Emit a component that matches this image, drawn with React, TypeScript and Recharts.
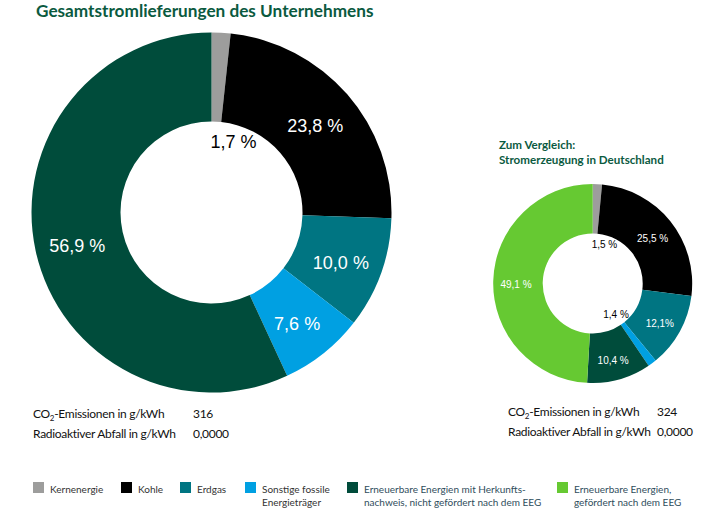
import React from 'react';
import { PieChart, Pie, Cell } from 'recharts';

const categories = [
  'Kernenergie',
  'Kohle',
  'Erdgas',
  'Sonstige fossile Energieträger',
  'Erneuerbare Energien mit Herkunftsnachweis, nicht gefördert nach dem EEG',
  'Erneuerbare Energien, gefördert nach dem EEG',
];
const colors = ['#9d9d9c', '#000000', '#007582', '#00a0e2', '#004c3b', '#66c932'];

const companyValues = [1.7, 23.8, 10.0, 7.6, 56.9];
const companyLabels = ['1,7 %', '23,8 %', '10,0 %', '7,6 %', '56,9 %'];

const germanyValues = [1.5, 25.5, 12.1, 1.4, 10.4, 49.1];
const germanyLabels = ['1,5 %', '25,5 %', '12,1%', '1,4 %', '10,4 %', '49,1 %'];

const legendLines = [
  ['Kernenergie'],
  ['Kohle'],
  ['Erdgas'],
  ['Sonstige fossile', 'Energieträger'],
  ['Erneuerbare Energien mit Herkunfts-', 'nachweis, nicht gefördert nach dem EEG'],
  ['Erneuerbare Energien,', 'gefördert nach dem EEG'],
];
const legendTextColors = ['#333333', '#333333', '#333333', '#333333', '#2f4d5c', '#2f4d5c'];
const LEGEND_X = [33, 121, 180, 245, 347, 557];

const companyStats = ['316', '0,0000'];
const germanyStats = ['324', '0,0000'];

const companyData = companyValues.map((v, i) => ({ name: categories[i], value: v }));
const germanyData = germanyValues.map((v, i) => ({ name: categories[i], value: v }));

const RAD = Math.PI / 180;
const LABEL_FONT = '"Liberation Sans", Arial, sans-serif';
const TEXT_FONT = 'Lato, "Open Sans", sans-serif';

const makeLabel = (labels: string[], fontSize: number, ringDy: number) => (props: any) => {
  const { cx, cy, midAngle, innerRadius, outerRadius, index, value } = props;
  const small = value < 2;
  const r = small ? innerRadius * 0.78 : (innerRadius + outerRadius) / 2 + 2;
  const cos = Math.cos(-midAngle * RAD);
  const sin = Math.sin(-midAngle * RAD);
  let x = cx + r * cos;
  const y = cy + r * sin + (small ? 0 : ringDy);
  let anchor: 'start' | 'middle' = 'middle';
  if (small && Math.abs(cos) < 0.2) {
    anchor = 'start';
    x = cx - 1;
  }
  return (
    <text
      key={`l-${index}`}
      x={x}
      y={y}
      fill={small ? '#000' : '#fff'}
      textAnchor={anchor}
      dominantBaseline="central"
      fontSize={fontSize}
      fontFamily={LABEL_FONT}
    >
      {labels[index]}
    </text>
  );
};

const statsBlock = (left: number, valueLeft: number, top: number, values: string[]) => (
  <div
    style={{
      position: 'absolute',
      left,
      top,
      fontFamily: TEXT_FONT,
      fontSize: 12,
      letterSpacing: -0.3,
      color: '#111',
      lineHeight: '20px',
    }}
  >
    <div style={{ position: 'relative', height: 20, whiteSpace: 'nowrap' }}>
      <span>
        CO<sub style={{ fontSize: 8, verticalAlign: 'baseline', position: 'relative', top: 3 }}>2</sub>-Emissionen in g/kWh
      </span>
      <span style={{ position: 'absolute', left: valueLeft }}>{values[0]}</span>
    </div>
    <div style={{ position: 'relative', height: 20, whiteSpace: 'nowrap' }}>
      <span>Radioaktiver Abfall in g/kWh</span>
      <span style={{ position: 'absolute', left: valueLeft }}>{values[1]}</span>
    </div>
  </div>
);

export default function App() {
  return (
    <div style={{ position: 'absolute', left: 0, top: 0, width: 724, height: 519, background: '#fff', overflow: 'hidden' }}>
      <div
        style={{
          position: 'absolute',
          left: 36,
          top: 0,
          fontFamily: TEXT_FONT,
          fontWeight: 700,
          fontSize: 17.2,
          color: '#0b5a3f',
          whiteSpace: 'nowrap',
          lineHeight: '22px',
        }}
      >
        Gesamtstromlieferungen des Unternehmens
      </div>
      <div
        style={{
          position: 'absolute',
          left: 499,
          top: 137,
          fontFamily: TEXT_FONT,
          fontWeight: 700,
          fontSize: 11.6,
          color: '#0b5a3f',
          whiteSpace: 'nowrap',
          lineHeight: '15px',
        }}
      >
        <div>Zum Vergleich:</div>
        <div>Stromerzeugung in Deutschland</div>
      </div>

      <div style={{ position: 'absolute', left: 0, top: 0 }}>
        <PieChart width={724} height={519} margin={{ top: 0, right: 0, bottom: 0, left: 0 }}>
          <Pie
            data={companyData}
            dataKey="value"
            nameKey="name"
            cx={211.5}
            cy={212.5}
            innerRadius={91}
            outerRadius={180}
            startAngle={90}
            endAngle={-270}
            stroke="none"
            labelLine={false}
            label={makeLabel(companyLabels, 18, 4)}
            isAnimationActive={false}
          >
            {companyData.map((d, i) => (
              <Cell key={d.name} fill={colors[i]} />
            ))}
          </Pie>
          <Pie
            data={germanyData}
            dataKey="value"
            nameKey="name"
            cx={592.7}
            cy={283.5}
            innerRadius={50}
            outerRadius={99.5}
            startAngle={90}
            endAngle={-270}
            stroke="none"
            labelLine={false}
            label={makeLabel(germanyLabels, 10, 3)}
            isAnimationActive={false}
          >
            {germanyData.map((d, i) => (
              <Cell key={d.name} fill={colors[i]} />
            ))}
          </Pie>
        </PieChart>
      </div>

      {statsBlock(33, 160, 404, companyStats)}
      {statsBlock(508, 149, 402, germanyStats)}

      {legendLines.map((lines, i) => (
        <div key={i} style={{ position: 'absolute', left: LEGEND_X[i], top: 482 }}>
          <div style={{ position: 'absolute', left: 0, top: 0, width: 11, height: 11, background: colors[i] }} />
          <div
            style={{
              position: 'absolute',
              left: 17,
              top: 1,
              fontFamily: TEXT_FONT,
              fontSize: 10,
              lineHeight: '13px',
              color: legendTextColors[i],
              whiteSpace: 'nowrap',
            }}
          >
            {lines.map((l, j) => (
              <div key={j}>{l}</div>
            ))}
          </div>
        </div>
      ))}
    </div>
  );
}
